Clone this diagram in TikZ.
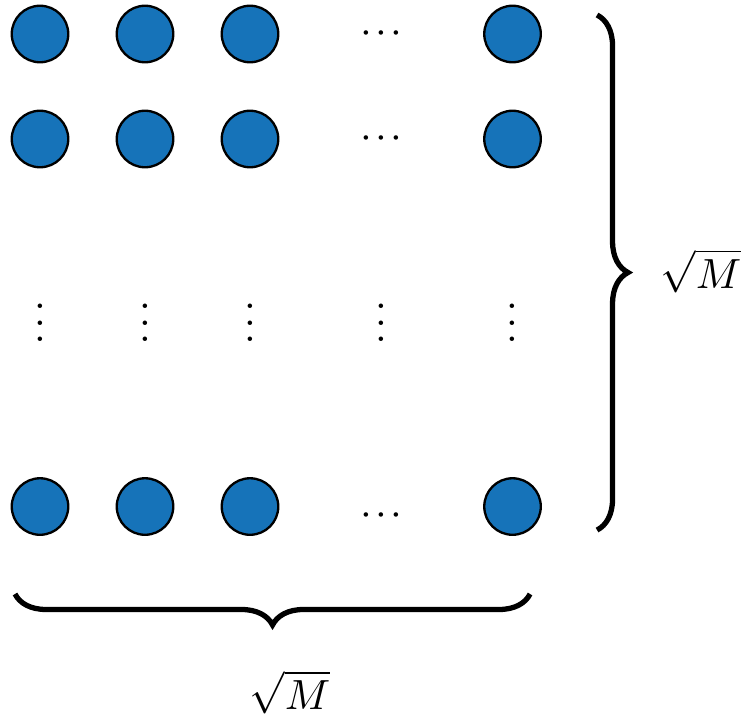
\documentclass[tikz,border=0pt]{standalone}
\usepackage{tikz}
\usetikzlibrary{decorations.pathreplacing}
\definecolor{cellblue}{RGB}{22,115,185}

\begin{document}
\begin{tikzpicture}[x=0.875cm, y=0.875cm,
  cell/.style={circle, draw=black, line width=0.55pt, fill=cellblue,
    minimum size=13.4pt, inner sep=0pt},
  bigbrace/.style={decorate, decoration={brace, amplitude=7.35pt},
    line width=1.25pt}]

% Cadre
\useasboundingbox (-0.381,0.324) rectangle (6.733,-6.514);

% Cercles (lignes a, b, c)
\foreach \r/\y in {a/0, b/-1, c/-4.5} {
  \foreach \c/\x in {1/0, 2/1, 3/2, 4/4.5} {
    \node[cell] (n\r\c) at (\x,\y) {};
  }
}

% Points horizontaux
\newcommand{\hdots}{$\cdotp\mkern-1.6mu\cdotp\mkern-1.6mu\cdotp$}
\node (ha) at (3.25,0)     {\hdots};
\node (hb) at (3.25,-1)    {\hdots};
\node (hc) at (3.25,-4.59) {\hdots};

% Points verticaux
\foreach \c/\x in {1/0, 2/1, 3/2, 4/3.25, 5/4.5} {
  \node (v\c) at (\x,-2.63) {$\vdots$};
}

% Accolade droite
\coordinate (rtop) at (5.305,0.181);
\coordinate (rbot) at (5.305,-4.724);
\draw[bigbrace] (rtop) -- (rbot);
\node (lright) at (6.295,-2.257) {$\sqrt{M}$};

% Accolade du bas
\coordinate (bright) at (4.667,-5.333);
\coordinate (bleft)  at (-0.238,-5.333);
\draw[bigbrace] (bright) -- (bleft);
\node (lbottom) at (2.381,-6.267) {$\sqrt{M}$};

\end{tikzpicture}
\end{document}
